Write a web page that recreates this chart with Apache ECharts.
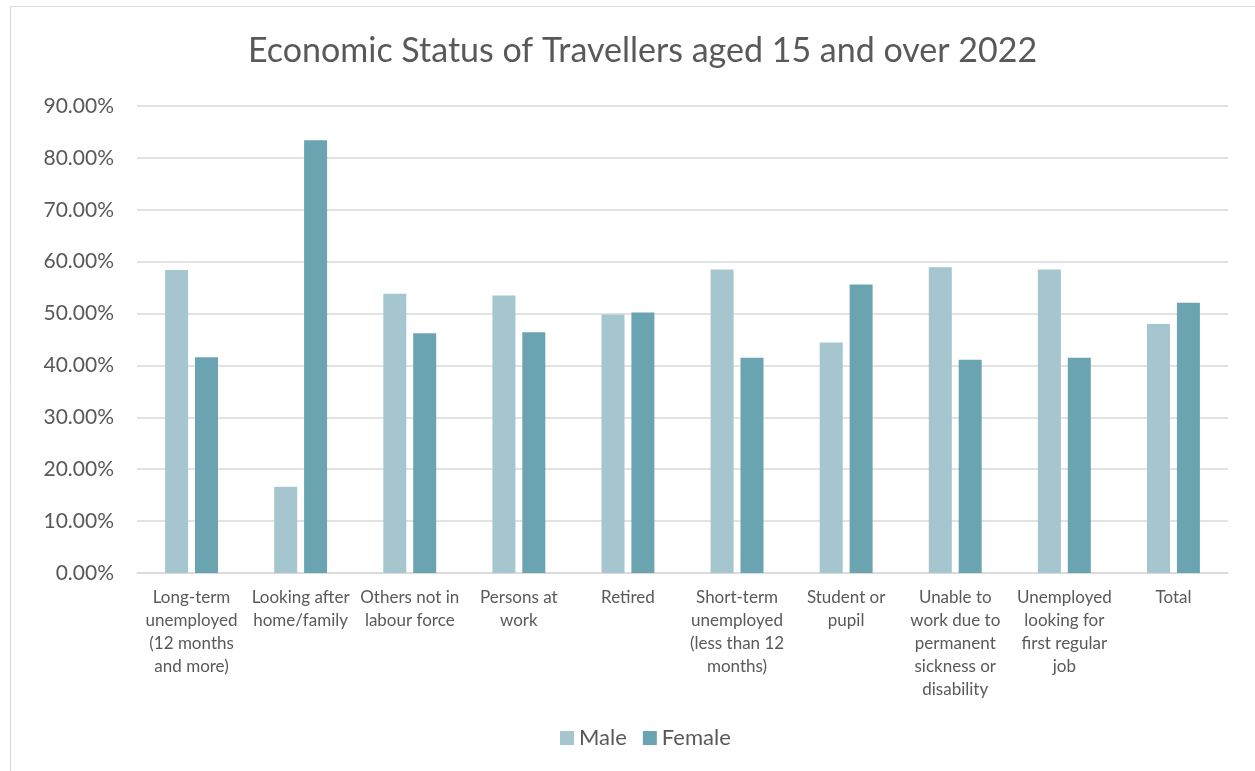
<!DOCTYPE html>
<html><head><meta charset="utf-8">
<script src="https://cdn.jsdelivr.net/npm/echarts@6/dist/echarts.min.js"></script>
<style>html,body{margin:0;padding:0;background:#fff}#c{width:1255px;height:771px}</style>
</head><body><div id="c"></div>
<script>
const categories = [
  "Long-term\nunemployed\n(12 months\nand more)",
  "Looking after\nhome/family",
  "Others not in\nlabour force",
  "Persons at\nwork",
  "Retired",
  "Short-term\nunemployed\n(less than 12\nmonths)",
  "Student or\npupil",
  "Unable to\nwork due to\npermanent\nsickness or\ndisability",
  "Unemployed\nlooking for\nfirst regular\njob",
  "Total"
];
const male   = [58.4, 16.6, 53.8, 53.5, 49.8, 58.5, 44.4, 58.9, 58.5, 48.0];
const female = [41.6, 83.4, 46.2, 46.4, 50.2, 41.5, 55.6, 41.1, 41.5, 52.1];
const yTicks = [0, 10, 20, 30, 40, 50, 60, 70, 80, 90];

const chart = echarts.init(document.getElementById('c'));
const font = 'Lato, "Open Sans", sans-serif';
chart.setOption({
  animation: false,
  textStyle: {fontFamily: font},
  graphic: [{type:'rect', shape:{x:10.5,y:6.5,width:1300,height:800}, style:{fill:null, stroke:'#d9d9d9', lineWidth:1}, silent:true}],
  title: {text: 'Economic Status of Travellers aged 15 and over 2022', left: 243, top: 29,
    textStyle: {fontFamily: font, fontSize: 34, fontWeight: 'normal', color: '#595959'}},
  legend: {bottom: 17, left: 555, itemWidth: 14, itemHeight: 14, itemGap: 16,
    icon: 'rect', textStyle: {fontFamily: font, fontSize: 22, color: '#595959'}},
  grid: {left: 137, right: 27, top: 106, bottom: 198},
  xAxis: {type: 'category', data: categories,
    axisLine: {lineStyle: {color: '#d9d9d9', width: 1.5}}, axisTick: {show: false},
    axisLabel: {interval: 0, color: '#595959', fontSize: 17, lineHeight: 23, margin: 13, fontFamily: font}},
  yAxis: {type: 'value', min: yTicks[0], max: yTicks[yTicks.length-1], interval: 10,
    axisLine: {show: false}, axisTick: {show: false},
    splitLine: {lineStyle: {color: '#d9d9d9', width: 1.5}},
    axisLabel: {color: '#595959', fontSize: 21, margin: 23, fontFamily: font,
      formatter: v => v.toFixed(2) + '%'}},
  series: [
    {name: 'Male', type: 'bar', data: male, barWidth: 23, barGap: '30%', itemStyle: {color: '#a5c6ce'}},
    {name: 'Female', type: 'bar', data: female, barWidth: 23, barGap: '30%', itemStyle: {color: '#6aa4b0'}}
  ]
});
</script></body></html>
